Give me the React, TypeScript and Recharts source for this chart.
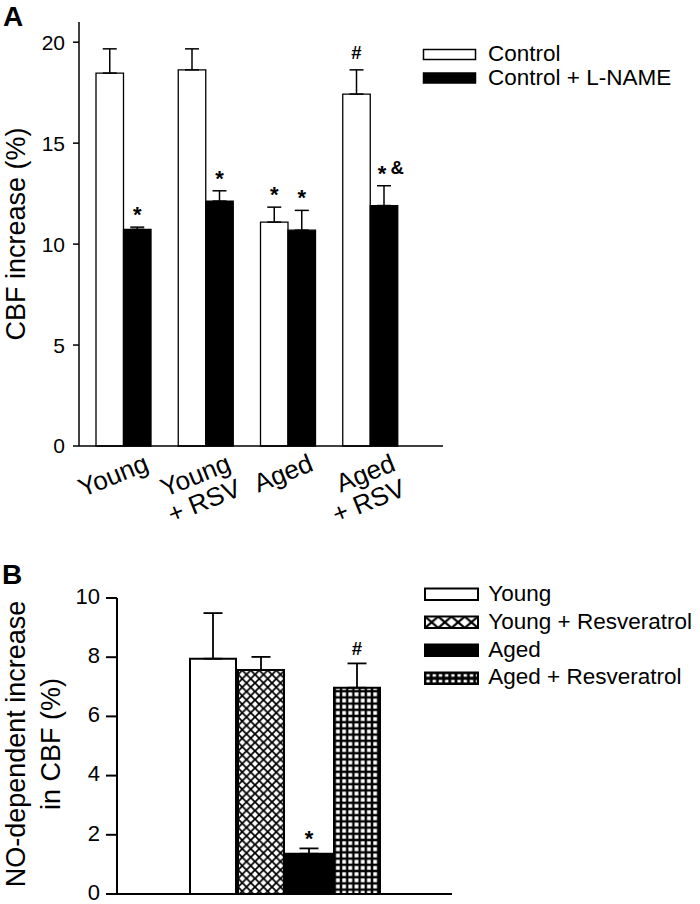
import React from 'react';
import { BarChart, Bar, XAxis, YAxis, ErrorBar, LabelList, Legend, Label } from 'recharts';

const FONT = '"Liberation Sans", Arial, Helvetica, sans-serif';

// Panel A: CBF increase, Control vs Control + L-NAME
const groupsA = ['Young', 'Young\n+ RSV', 'Aged', 'Aged\n+ RSV'];
const controlMean = [18.47, 18.63, 11.09, 17.43];
const controlErr = [1.2, 1.04, 0.74, 1.2];
const controlMark = ['', '', '*', '#'];
const lnameMean = [10.73, 12.13, 10.69, 11.91];
const lnameErr = [0.11, 0.51, 0.98, 0.98];
const lnameMark = ['*', '*', '*', '* &'];
const seriesA = ['Control', 'Control + L-NAME'];
const ticksA = [0, 5, 10, 15, 20];

// Panel B: NO-dependent increase in CBF
const groupsB = ['Young', 'Young + Resveratrol', 'Aged', 'Aged + Resveratrol'];
const meansB = [7.95, 7.57, 1.36, 6.97];
const errsB = [1.54, 0.44, 0.18, 0.82];
const marksB = ['', '', '*', '#'];
const ticksB = [0, 2, 4, 6, 8, 10];

const dataA = groupsA.map((g, i) => ({
  group: g,
  control: controlMean[i],
  controlErr: [0, controlErr[i]],
  controlMark: controlMark[i],
  lname: lnameMean[i],
  lnameErr: [0, lnameErr[i]],
  lnameMark: lnameMark[i],
}));

const rowB: Record<string, any> = { group: '' };
groupsB.forEach((_, i) => {
  rowB['b' + i] = meansB[i];
  rowB['e' + i] = [0, errsB[i]];
  rowB['m' + i] = marksB[i];
});
const dataB = [rowB];

const barFillsB = ['#fff', 'url(#diamondBar)', '#000', 'url(#gridBar)'];
const legendFillsB = ['#fff', 'url(#diamondLeg)', '#000', 'url(#gridLeg)'];

// one significance glyph, its centre put at (x, cy)
const Glyph = ({ ch, x, cy, anchor }: { ch: string; x: number; cy: number; anchor: 'middle' | 'start' }) => {
  const star = ch === '*';
  const fs = star ? 22 : 18.5;
  // asterisk sits high in the em box, so drop it further
  const base = cy + (star ? 0.58 : 0.36) * fs;
  return (
    <text x={x} y={base} textAnchor={anchor} fontWeight="bold" fontSize={fs} fontFamily={FONT} fill="#000">
      {ch}
    </text>
  );
};

const markLabel = (meanOf: (i: number) => number, errOf: (i: number) => number, gap: number) =>
  (props: any) => {
    const { x, y, width, height, value, index } = props;
    if (!value) return null;
    const perUnit = height / meanOf(index);
    const cy = y - errOf(index) * perUnit - gap;
    const cx = x + width / 2;
    const parts = String(value).split(' ');
    if (parts.length === 1) return <Glyph ch={parts[0]} x={cx} cy={cy} anchor="middle" />;
    return (
      <g>
        <Glyph ch={parts[0]} x={cx - 2} cy={cy} anchor="middle" />
        <Glyph ch={parts[1]} x={cx + 6.5} cy={cy} anchor="start" />
      </g>
    );
  };

const RotatedTick = (props: any) => {
  const { x, y, payload } = props;
  const lines = String(payload.value).split('\n');
  return (
    <g transform={`translate(${x + 27},${y + 24})`}>
      <text transform="rotate(-22)" textAnchor="end" fontSize={26} fontFamily={FONT} fill="#000">
        {lines.map((l, i) => (
          <tspan key={i} x={0} dy={i === 0 ? 0 : 27}>
            {l}
          </tspan>
        ))}
      </text>
    </g>
  );
};

const yLabelA = (props: any) => {
  const vb = props.viewBox || { y: 22, height: 424 };
  const cy = vb.y + vb.height / 2;
  return (
    <text transform={`translate(25,${cy}) rotate(-90)`} textAnchor="middle" fontSize={27} fontFamily={FONT} fill="#000">
      CBF increase (%)
    </text>
  );
};

const yLabelB = (props: any) => {
  const vb = props.viewBox || { y: 68, height: 296 };
  const cy = vb.y + vb.height / 2;
  return (
    <text transform={`translate(25,${cy - 2}) rotate(-90)`} textAnchor="middle" fontSize={27} fontFamily={FONT} fill="#000">
      <tspan x={0} dy={0}>NO-dependent increase</tspan>
      <tspan x={0} dy={35}>in CBF (%)</tspan>
    </text>
  );
};

const LegendA = () => (
  <svg width={280} height={60}>
    {seriesA.map((s, i) => (
      <g key={s}>
        <rect x={3.5} y={9.5 + i * 23.5} width={52} height={10} fill={i === 0 ? '#fff' : '#000'} stroke="#000" strokeWidth={1.5} />
        <text x={68} y={21 + i * 24.4} fontSize={22.5} fontFamily={FONT} fill="#000">
          {s}
        </text>
      </g>
    ))}
  </svg>
);

const LegendB = () => (
  <svg width={280} height={120}>
    {groupsB.map((s, i) => (
      <g key={s}>
        <rect x={5} y={8.5 + i * 28} width={53} height={11.5} fill={legendFillsB[i]} stroke="#000" strokeWidth={2} />
        <text x={68.3} y={20.9 + i * 27.8} fontSize={22.5} fontFamily={FONT} fill="#000">
          {s}
        </text>
      </g>
    ))}
  </svg>
);

const panelLetter = (top: number, left: number): React.CSSProperties => ({
  position: 'absolute',
  top,
  left,
  fontFamily: FONT,
  fontWeight: 'bold',
  fontSize: 28,
  lineHeight: '28px',
});

export default function App() {
  return (
    <div style={{ position: 'absolute', left: 0, top: 0, width: 700, height: 904, background: '#fff', overflow: 'hidden' }}>
      <svg width={0} height={0} style={{ position: 'absolute' }}>
        <defs>
          <pattern id="diamondBar" patternUnits="userSpaceOnUse" width={8.5} height={8.5}>
            <rect width={8.5} height={8.5} fill="#fff" />
            <path d="M-1,-1 L9.5,9.5 M9.5,-1 L-1,9.5" stroke="#000" strokeWidth={1.8} />
          </pattern>
          <pattern id="diamondLeg" patternUnits="userSpaceOnUse" x={5} y={36.5} width={13.25} height={11.5}>
            <rect width={13.25} height={11.5} fill="#fff" />
            <path d="M0,0 L13.25,11.5 M13.25,0 L0,11.5" stroke="#000" strokeWidth={2.2} />
          </pattern>
          <pattern id="gridBar" patternUnits="userSpaceOnUse" width={6.2} height={6.2}>
            <rect width={6.2} height={6.2} fill="#000" />
            <rect x={1.2} y={1.2} width={3.8} height={3.8} fill="#fff" />
          </pattern>
          <pattern id="gridLeg" patternUnits="userSpaceOnUse" x={5} y={92.5} width={6.2} height={5.75}>
            <rect width={6.2} height={5.75} fill="#000" />
            <rect x={1.4} y={1.6} width={3.4} height={2.6} fill="#fff" />
          </pattern>
        </defs>
      </svg>

      <div style={panelLetter(3, 3)}>A</div>
      <div style={{ position: 'absolute', left: 0, top: 0 }}>
        <BarChart width={700} height={530} data={dataA} margin={{ top: 22, right: 257, bottom: 0, left: 0 }} barGap={0}>
          <XAxis
            dataKey="group"
            interval={0}
            height={84}
            padding={{ left: 3, right: 32 }}
            tickLine={false}
            tickSize={0}
            tickMargin={0}
            axisLine={{ stroke: '#000', strokeWidth: 1.5 }}
            tick={(p: any) => <RotatedTick {...p} />}
          />
          <YAxis
            width={79}
            domain={[0, 21]}
            ticks={ticksA}
            interval={0}
            tickSize={6}
            tickMargin={8}
            axisLine={{ stroke: '#000', strokeWidth: 1.5 }}
            tickLine={{ stroke: '#000', strokeWidth: 1.5 }}
            tick={{ fill: '#000', fontSize: 21, fontFamily: FONT }}
          >
            <Label content={yLabelA} />
          </YAxis>
          <Legend
            layout="vertical"
            align="center"
            verticalAlign="middle"
            wrapperStyle={{ left: 420, top: 40, width: 280, height: 60 }}
            content={() => <LegendA />}
          />
          <Bar dataKey="control" name={seriesA[0]} barSize={27.5} fill="#fff" stroke="#000" strokeWidth={1.3} isAnimationActive={false}>
            <ErrorBar dataKey="controlErr" direction="y" width={7} stroke="#000" strokeWidth={1.5} isAnimationActive={false} />
            <LabelList dataKey="controlMark" content={markLabel((i) => controlMean[i], (i) => controlErr[i], 18)} />
          </Bar>
          <Bar dataKey="lname" name={seriesA[1]} barSize={27.5} fill="#000" stroke="#000" strokeWidth={1.3} isAnimationActive={false}>
            <ErrorBar dataKey="lnameErr" direction="y" width={7} stroke="#000" strokeWidth={1.5} isAnimationActive={false} />
            <LabelList dataKey="lnameMark" content={markLabel((i) => lnameMean[i], (i) => lnameErr[i], 18)} />
          </Bar>
        </BarChart>
      </div>

      <div style={panelLetter(561, 2)}>B</div>
      <div style={{ position: 'absolute', left: 0, top: 530 }}>
        <BarChart width={700} height={374} data={dataB} margin={{ top: 68, right: 248, bottom: 0, left: 0 }} barGap={2}>
          <XAxis
            dataKey="group"
            height={10}
            tick={false}
            tickLine={false}
            axisLine={{ stroke: '#000', strokeWidth: 2 }}
          />
          <YAxis
            width={117}
            domain={[0, 10]}
            ticks={ticksB}
            interval={0}
            tickSize={11}
            tickMargin={6}
            axisLine={{ stroke: '#000', strokeWidth: 2 }}
            tickLine={{ stroke: '#000', strokeWidth: 2 }}
            tick={{ fill: '#000', fontSize: 22, fontFamily: FONT, dy: -2 }}
          >
            <Label content={yLabelB} />
          </YAxis>
          <Legend
            layout="vertical"
            align="center"
            verticalAlign="middle"
            wrapperStyle={{ left: 420, top: 50, width: 280, height: 120 }}
            content={() => <LegendB />}
          />
          {groupsB.map((g, i) => (
            <Bar
              key={g}
              dataKey={'b' + i}
              name={g}
              barSize={46}
              fill={barFillsB[i]}
              stroke="#000"
              strokeWidth={2}
              isAnimationActive={false}
            >
              <ErrorBar dataKey={'e' + i} direction="y" width={9.5} stroke="#000" strokeWidth={1.8} isAnimationActive={false} />
              <LabelList dataKey={'m' + i} content={markLabel(() => meansB[i], () => errsB[i], 15)} />
            </Bar>
          ))}
        </BarChart>
      </div>
    </div>
  );
}
